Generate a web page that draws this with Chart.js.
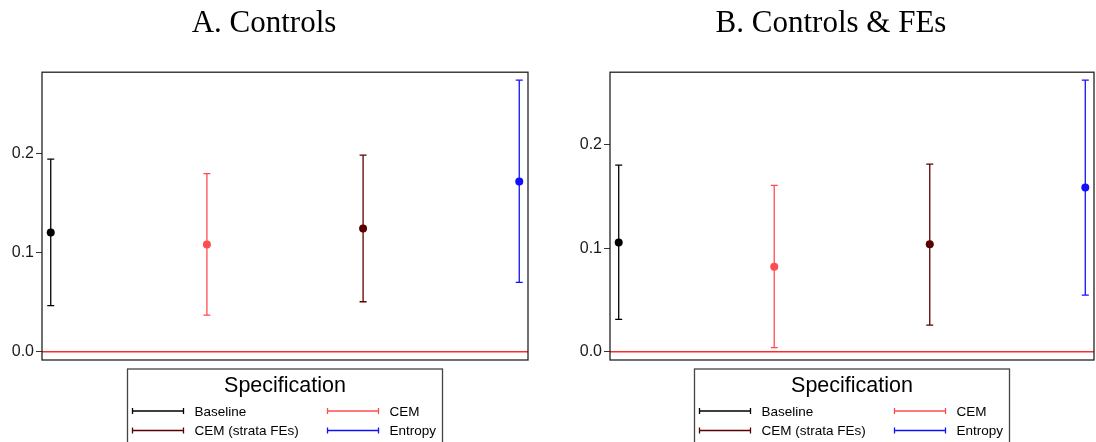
<!DOCTYPE html>
<html lang="en">
<head>
  <meta charset="UTF-8">
  <title>Controls vs Controls & FEs</title>
  <script src="https://cdn.jsdelivr.net/npm/chart.js"></script>
  <style>
    body { margin: 0; background: #fff; }
    canvas { position: absolute; top: 0; }
  </style>
</head>
<body>
  <canvas id="panelA" width="548" height="442" style="left:0"></canvas>
  <canvas id="panelB" width="548" height="442" style="left:548px"></canvas>

  <script>
    // specifications, in plotting order
    const specs = ['Baseline', 'CEM', 'CEM (strata FEs)', 'Entropy'];
    const specColors = ['#000000', '#ff4d4d', '#5a0000', '#1010ff'];
    const specX = [1, 2, 3, 4];

    // panel A: controls
    const estA = [0.1206, 0.1085, 0.1246, 0.1720];
    const lowA = [0.0465, 0.0370, 0.0505, 0.0701];
    const highA = [0.1947, 0.1800, 0.1987, 0.2745];

    // panel B: controls & FEs
    const estB = [0.1057, 0.0821, 0.1038, 0.1588];
    const lowB = [0.0313, 0.0039, 0.0258, 0.0548];
    const highB = [0.1804, 0.1608, 0.1814, 0.2625];

    const yTicks = [0, 0.1, 0.2];

    // box round the plot area
    const framePlugin = {
      id: 'frame',
      afterDraw(chart) {
        const a = chart.chartArea, c = chart.ctx;
        c.save();
        c.strokeStyle = '#222';
        c.lineWidth = 1.3;
        c.strokeRect(a.left, a.top, a.right - a.left, a.bottom - a.top);
        c.restore();
      }
    };

    // "Specification" legend box under the plot
    const specLegend = {
      id: 'specLegend',
      afterDraw(chart) {
        const a = chart.chartArea, c = chart.ctx;
        const mid = (a.left + a.right) / 2;
        const L = mid - 157.5, top = a.bottom + 9;
        c.save();
        c.strokeStyle = '#444';
        c.lineWidth = 1.3;
        c.strokeRect(L, top, 315, 120);
        c.fillStyle = '#000';
        c.font = '21.5px "Liberation Sans", Arial, sans-serif';
        c.textAlign = 'center';
        c.textBaseline = 'alphabetic';
        c.fillText('Specification', mid, top + 23);
        c.font = '13.5px "Liberation Sans", Arial, sans-serif';
        c.textAlign = 'left';
        specs.forEach((s, i) => {
          const x0 = L + 5 + (i % 2) * 195;
          const y = top + 42 + Math.floor(i / 2) * 19.5;
          c.strokeStyle = specColors[i];
          c.lineWidth = 1.3;
          c.beginPath();
          c.moveTo(x0, y); c.lineTo(x0 + 51, y);
          c.moveTo(x0, y - 3); c.lineTo(x0, y + 3);
          c.moveTo(x0 + 51, y - 3); c.lineTo(x0 + 51, y + 3);
          c.stroke();
          c.fillStyle = '#000';
          c.fillText(s, x0 + 62, y + 4.5);
        });
        c.restore();
      }
    };

    function makePanel(id, title, est, low, high, yMin, yMax, pad) {
      const xMin = 0.944, xMax = 4.056;
      const datasets = [{
        type: 'line',
        data: [{ x: xMin, y: 0 }, { x: xMax, y: 0 }],
        borderColor: '#ff2a2a',
        borderWidth: 1.5,
        pointRadius: 0
      }];
      specs.forEach((s, i) => {
        datasets.push({
          type: 'line',
          label: s,
          data: [{ x: specX[i], y: low[i] }, { x: specX[i], y: high[i] }],
          borderColor: specColors[i],
          borderWidth: 1.3,
          pointStyle: 'line',
          pointRadius: 3.5,
          pointBorderWidth: 1.3,
          pointBorderColor: specColors[i]
        });
        datasets.push({
          type: 'scatter',
          data: [{ x: specX[i], y: est[i] }],
          backgroundColor: specColors[i],
          borderWidth: 0,
          pointRadius: 4
        });
      });

      return new Chart(document.getElementById(id), {
        data: { datasets },
        options: {
          responsive: false,
          animation: false,
          layout: { padding: pad, autoPadding: false },
          plugins: {
            legend: { display: false },
            tooltip: { enabled: false },
            title: {
              display: true,
              text: title,
              color: '#000',
              font: { family: '"Liberation Serif", "Times New Roman", serif', size: 31, weight: 'normal' },
              padding: { top: 5, bottom: 30 }
            }
          },
          scales: {
            x: { type: 'linear', display: false, min: xMin, max: xMax },
            y: {
              min: yMin,
              max: yMax,
              afterBuildTicks: s => { s.ticks = yTicks.map(v => ({ value: v })); },
              afterFit: s => { s.width = 42; },
              border: { display: false },
              grid: { drawOnChartArea: false, drawTicks: true, tickLength: 6, color: '#333' },
              ticks: {
                color: '#1a1a1a',
                padding: 2,
                font: { family: '"Liberation Sans", Arial, sans-serif', size: 16 },
                callback: v => v.toFixed(1)
              }
            }
          }
        },
        plugins: [framePlugin, specLegend]
      });
    }

    makePanel('panelA', 'A. Controls', estA, lowA, highA, -0.0084, 0.2826,
      { left: 0, right: 20, top: 0, bottom: 82 });
    makePanel('panelB', 'B. Controls & FEs', estB, lowB, highB, -0.008, 0.2702,
      { left: 20, right: 2, top: 0, bottom: 82 });
  </script>
</body>
</html>
